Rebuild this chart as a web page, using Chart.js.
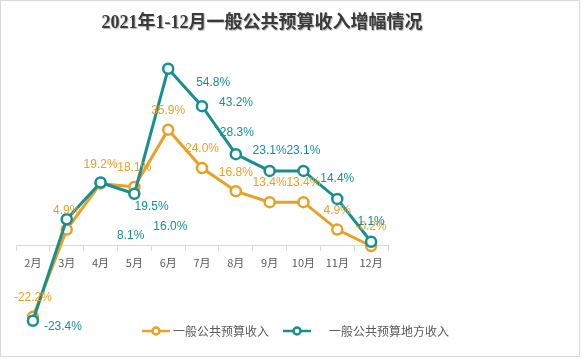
<!DOCTYPE html>
<html>
<head>
<meta charset="utf-8">
<script src="https://cdn.jsdelivr.net/npm/chart.js@4/dist/chart.umd.min.js"></script>
<style>
  html, body { margin: 0; padding: 0; background: #fff; }
  #wrap { width: 583px; height: 359px; position: relative; }
</style>
</head>
<body>
<div id="wrap"><canvas id="c" width="583" height="359"></canvas></div>
<script>
// values
const months = ["2月", "3月", "4月", "5月", "6月", "7月", "8月", "9月", "10月", "11月", "12月"];
const revenue = [-22.2, 4.9, 19.2, 18.1, 35.9, 24.0, 16.8, 13.4, 13.4, 4.9, -0.2];
const localRevenue = [-23.4, 8.1, 19.5, 16.0, 54.8, 43.2, 28.3, 23.1, 23.1, 14.4, 1.1];
const seriesNames = ["一般公共预算收入", "一般公共预算地方收入"];
const titleText = "2021年1-12月一般公共预算收入增幅情况";

const ORANGE = "#e9a024";
const TEAL = "#178f92";

// label nudges (px, relative to the point) - Excel put a few of them in odd spots
const orangeNudge = months.map(() => [0, -19]);
const tealNudge = [[30, 6], [64, 16], [51, 24], [36, 33], [45, 14], [34, -3], [1, -21], [0, -20], [0, -20], [0, -20], [0, -20]];

const framePlugin = {
  id: "frame",
  beforeDraw(chart) {
    const ctx = chart.ctx;
    ctx.save();
    ctx.fillStyle = "#fff";
    ctx.fillRect(0, 0, chart.width, chart.height);
    ctx.strokeStyle = "#d9d9d9";
    ctx.lineWidth = 1;
    ctx.strokeRect(0.5, 0.5, 579, 356);
    ctx.restore();
  },
  afterDraw(chart) {
    const ctx = chart.ctx;
    ctx.save();
    // title
    ctx.font = "bold 18px 'Liberation Serif', 'Noto Sans CJK SC', serif";
    ctx.textAlign = "center";
    ctx.textBaseline = "middle";
    ctx.shadowColor = "rgba(0,0,0,0.3)";
    ctx.shadowOffsetX = 1;
    ctx.shadowOffsetY = 1;
    ctx.shadowBlur = 1;
    ctx.fillStyle = "#3a3a3a";
    ctx.fillText(titleText, 262, 23);
    ctx.restore();

    // legend (line + hollow marker)
    const items = [
      { name: seriesNames[0], color: ORANGE, x: 142, tx: 173 },
      { name: seriesNames[1], color: TEAL, x: 283, tx: 329 }
    ];
    const y = 331;
    ctx.save();
    items.forEach(it => {
      ctx.strokeStyle = it.color;
      ctx.lineWidth = 2.5;
      ctx.beginPath();
      ctx.moveTo(it.x, y);
      ctx.lineTo(it.x + 28, y);
      ctx.stroke();
      ctx.beginPath();
      ctx.arc(it.x + 14, y, 3.5, 0, Math.PI * 2);
      ctx.fillStyle = "#fff";
      ctx.fill();
      ctx.stroke();
      ctx.fillStyle = "#595959";
      ctx.font = "12px 'Noto Sans CJK SC', sans-serif";
      ctx.textAlign = "left";
      ctx.textBaseline = "middle";
      ctx.fillText(it.name, it.tx, y);
    });
    ctx.restore();
  }
};

const labelPlugin = {
  id: "pctLabels",
  afterDatasetsDraw(chart) {
    const ctx = chart.ctx;
    ctx.save();
    ctx.font = "12px 'Liberation Sans', Arial, sans-serif";
    ctx.textAlign = "center";
    ctx.textBaseline = "middle";
    chart.data.datasets.forEach((ds, i) => {
      const meta = chart.getDatasetMeta(i);
      meta.data.forEach((pt, j) => {
        const [dx, dy] = ds.nudge[j];
        ctx.fillStyle = ds.borderColor;
        ctx.fillText(ds.data[j].toFixed(1) + "%", pt.x + dx, pt.y + dy);
      });
    });
    ctx.restore();
  }
};

new Chart(document.getElementById("c"), {
  type: "line",
  data: {
    labels: months,
    datasets: [
      {
        label: seriesNames[0],
        data: revenue,
        nudge: orangeNudge,
        borderColor: ORANGE,
        backgroundColor: "#fff",
        borderWidth: 3,
        pointRadius: 5,
        pointBorderWidth: 2.5,
        pointBackgroundColor: "#fff",
        pointBorderColor: ORANGE,
        tension: 0,
        order: 1
      },
      {
        label: seriesNames[1],
        data: localRevenue,
        nudge: tealNudge,
        borderColor: TEAL,
        backgroundColor: "#fff",
        borderWidth: 3,
        pointRadius: 5,
        pointBorderWidth: 2.5,
        pointBackgroundColor: "#fff",
        pointBorderColor: TEAL,
        tension: 0,
        order: 0
      }
    ]
  },
  options: {
    responsive: false,
    animation: false,
    layout: { padding: { top: 52, bottom: 17, left: 16, right: 195 } },
    plugins: {
      legend: { display: false },
      title: { display: false },
      tooltip: { enabled: false }
    },
    scales: {
      x: {
        position: { y: 0 },
        offset: true,
        grid: {
          display: true,
          drawOnChartArea: false,
          drawTicks: true,
          tickLength: 5,
          color: "#d9d9d9",
          offset: true
        },
        border: { display: true, color: "#d9d9d9", width: 1 },
        ticks: {
          color: "#595959",
          font: { size: 11, family: "'Noto Sans CJK SC', sans-serif" },
          padding: 6,
          maxRotation: 0,
          autoSkip: false
        }
      },
      y: {
        display: false,
        min: -30,
        max: 60
      }
    }
  },
  plugins: [framePlugin, labelPlugin]
});
</script>
</body>
</html>
